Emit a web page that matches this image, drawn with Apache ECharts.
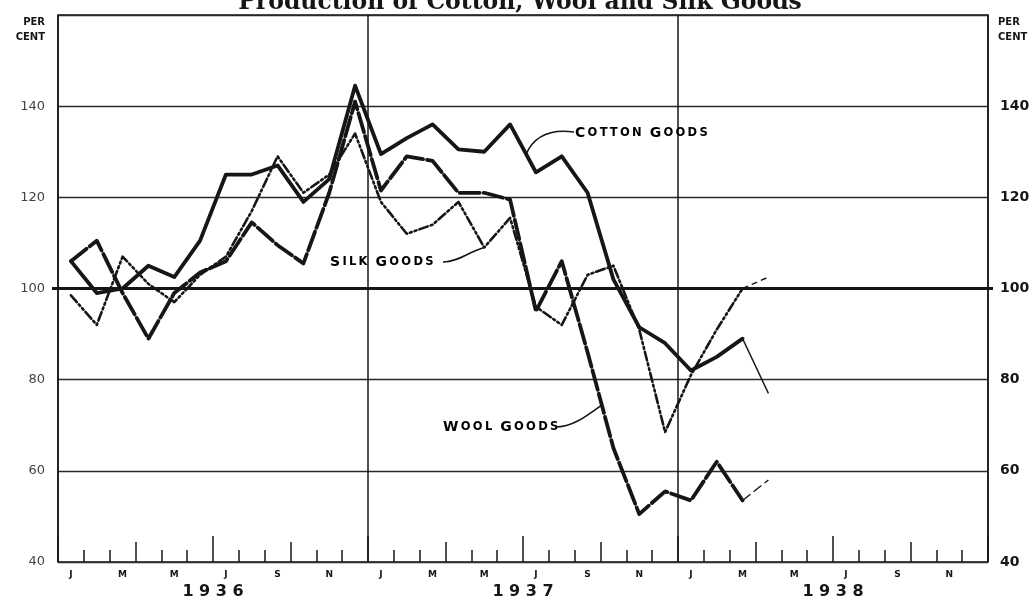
<!DOCTYPE html>
<html><head><meta charset="utf-8">
<script src="https://cdn.jsdelivr.net/npm/echarts@6/dist/echarts.min.js"></script>
<style>html,body{margin:0;padding:0;background:#fff}#c{width:1033px;height:601px}</style>
</head><body><div id="c"></div>
<script>
// ---- data (index 100) ----
const monthNames = ['Jan','Feb','Mar','Apr','May','Jun','Jul','Aug','Sep','Oct','Nov','Dec'];
const years = ['1936','1937','1938'];
const yTicks = [40, 60, 80, 100, 120, 140];
const cotton = [106, 99, 100, 105, 102.5, 110.5, 125, 125, 127, 119, 124, 144.5,
  129.5, 133, 136, 130.5, 130, 136, 125.5, 129, 121, 102, 91.5, 88,
  82, 85, 89, 77, null, null, null, null, null, null, null, null];
const wool = [106, 110.5, 99, 89, 99, 103.5, 106, 114.5, 109.5, 105.5, 121, 141,
  121.5, 129, 128, 121, 121, 119.5, 95, 106, 86, 65, 50.5, 55.5,
  53.5, 62, 53.5, 58, null, null, null, null, null, null, null, null];
const silk = [98.5, 92, 107, 101, 97, 103, 107, 117, 129, 121, 125, 134,
  119, 112, 114, 119, 109, 115.5, 96, 92, 103, 105, 91, 68.5,
  81, 91, 100, 102.5, null, null, null, null, null, null, null, null];
const lastFinal = 26; // Mar 1938: later month is preliminary (thin line)

const categories = [];
years.forEach(y => monthNames.forEach(m => categories.push(m + ' ' + y)));

function mainPart(arr){ return arr.map((v,i)=> i<=lastFinal ? v : null); }
function prelimPart(arr){ return arr.map((v,i)=> (i>=lastFinal && i<=lastFinal+1) ? v : null); }

const INK = '#161616';
const chart = echarts.init(document.getElementById('c'), null, {renderer:'canvas'});

function tickAxis(interval, len){
  return {type:'value', gridIndex:0, position:'bottom', min:0, max:36, interval:interval,
    axisLine:{show:false}, axisLabel:{show:false}, splitLine:{show:false},
    axisTick:{show:true, inside:true, length:len, lineStyle:{color:INK, width:1.5}}};
}

function lineSeries(name, arr, dash, width, pdash, pwidth){
  return [
    {name:name, type:'line', data:mainPart(arr), xAxisIndex:0, yAxisIndex:0, symbol:'none',
     connectNulls:false, silent:true, z:5,
     lineStyle:{color:INK, width:width, type:dash, join:'round', cap:'round'}},
    {name:name+' prelim', type:'line', data:prelimPart(arr), xAxisIndex:0, yAxisIndex:0, symbol:'none',
     silent:true, z:5, lineStyle:{color:INK, width:pwidth, type:pdash}}
  ];
}

const option = {
  backgroundColor:'#ffffff',
  animation:false,
  textStyle:{fontFamily:'DejaVu Sans'},
  grid:{left:58, right:45, top:15, bottom:39, show:true, borderColor:INK, borderWidth:1.5, backgroundColor:'transparent'},
  xAxis:[
    {type:'category', data:categories, boundaryGap:true, position:'bottom',
     axisLine:{show:false}, axisTick:{show:false},
     axisLabel:{interval:1, margin:8, fontSize:9, fontWeight:'bold', color:INK, formatter:v=>v[0]},
     splitLine:{show:false}},
    {type:'category', data:years, boundaryGap:true, position:'bottom',
     axisLine:{show:false}, axisTick:{show:false},
     axisLabel:{margin:22, fontSize:16, fontWeight:'bold', color:INK, formatter:v=>v.split('').join(' ')},
     splitLine:{show:false}},
    tickAxis(1, 12),
    tickAxis(3, 20),
    tickAxis(6, 26),
    {type:'value', gridIndex:0, position:'bottom', min:0, max:36, interval:12,
     axisLine:{show:false}, axisLabel:{show:false}, axisTick:{show:false},
     splitLine:{show:true, lineStyle:{color:INK, width:1.5}}}
  ],
  yAxis:[
    {type:'value', min:40, max:160, interval:20, position:'left',
     axisLine:{show:false}, axisTick:{show:false},
     axisLabel:{margin:13, fontSize:13, color:'#444', formatter:v=> yTicks.indexOf(v)>=0 ? String(v) : ''},
     splitLine:{show:true, lineStyle:{color:'#2a2a2a', width:1.4}}},
    {type:'value', min:40, max:160, interval:20, position:'right',
     axisLine:{show:false}, axisTick:{show:false},
     axisLabel:{margin:12, fontSize:14, fontWeight:'bold', color:INK, formatter:v=> yTicks.indexOf(v)>=0 ? String(v) : ''},
     splitLine:{show:false}}
  ],
  series:[].concat(
    lineSeries('Cotton Goods', cotton, 'solid', 3.8, 'solid', 1.4),
    lineSeries('Wool Goods', wool, [20,4], 3.8, [10,4], 1.4),
    lineSeries('Silk Goods', silk, [9,3,2,3,2,3], 2.6, [6,4], 1.4)
  )
};
chart.setOption(option);

function px(idx, val){ return chart.convertToPixel({xAxisIndex:0, yAxisIndex:0}, [idx, val]); }
function along(arr, i, t){
  const a = px(i, arr[i]), b = px(i+1, arr[i+1]);
  return [a[0]+(b[0]-a[0])*t, a[1]+(b[1]-a[1])*t];
}
function smallCaps(str){
  return str.split(' ').map(w => '{b|'+w[0]+'}{s|'+'\u2009'+w.slice(1).split('').join('\u2009')+'}').join('{s|  }');
}
const rich = {b:{fontSize:14, fontWeight:'bold', fontFamily:'DejaVu Sans', color:INK},
              s:{fontSize:11.5, fontWeight:'bold', fontFamily:'DejaVu Sans', color:INK}};

const y100 = px(0,100)[1];
const gl = 58, gr = 1033-45;
const pC = along(cotton, 17, 0.62);
const pS = px(16, silk[16]);
const pW = along(wool, 20, 0.55);

chart.setOption({graphic:[
  {type:'line', shape:{x1:gl-6, y1:y100, x2:gr+5, y2:y100}, style:{stroke:INK, lineWidth:3}, z:4},
  {type:'text', style:{text:'Production of Cotton, Wool and Silk Goods', x:520, y:15,
    font:'bold 23.5px "DejaVu Serif"', fill:INK, align:'center', verticalAlign:'bottom'}, z:10},
  {type:'text', style:{text:'PER\nCENT', x:45, y:30, font:'bold 10px "DejaVu Sans"', fill:INK,
    align:'right', verticalAlign:'middle', lineHeight:15}},
  {type:'text', style:{text:'PER\nCENT', x:998, y:30, font:'bold 10px "DejaVu Sans"', fill:INK,
    align:'left', verticalAlign:'middle', lineHeight:15}},
  {type:'text', style:{text:smallCaps('COTTON GOODS'), rich:rich, x:575, y:133, verticalAlign:'middle', align:'left'}, z:10},
  {type:'text', style:{text:smallCaps('SILK GOODS'), rich:rich, x:330, y:262, verticalAlign:'middle', align:'left'}, z:10},
  {type:'text', style:{text:smallCaps('WOOL GOODS'), rich:rich, x:443, y:427, verticalAlign:'middle', align:'left'}, z:10},
  {type:'bezierCurve', shape:{x1:574, y1:132, cpx1:552, cpy1:129, cpx2:535, cpy2:134, x2:pC[0], y2:pC[1]},
    style:{stroke:INK, lineWidth:1.6, fill:null}, z:6},
  {type:'bezierCurve', shape:{x1:443, y1:262, cpx1:458, cpy1:262, cpx2:468, cpy2:252, x2:pS[0], y2:pS[1]},
    style:{stroke:INK, lineWidth:1.6, fill:null}, z:6},
  {type:'bezierCurve', shape:{x1:555, y1:427, cpx1:572, cpy1:427, cpx2:584, cpy2:418, x2:pW[0], y2:pW[1]},
    style:{stroke:INK, lineWidth:1.6, fill:null}, z:6}
]});
</script></body></html>
